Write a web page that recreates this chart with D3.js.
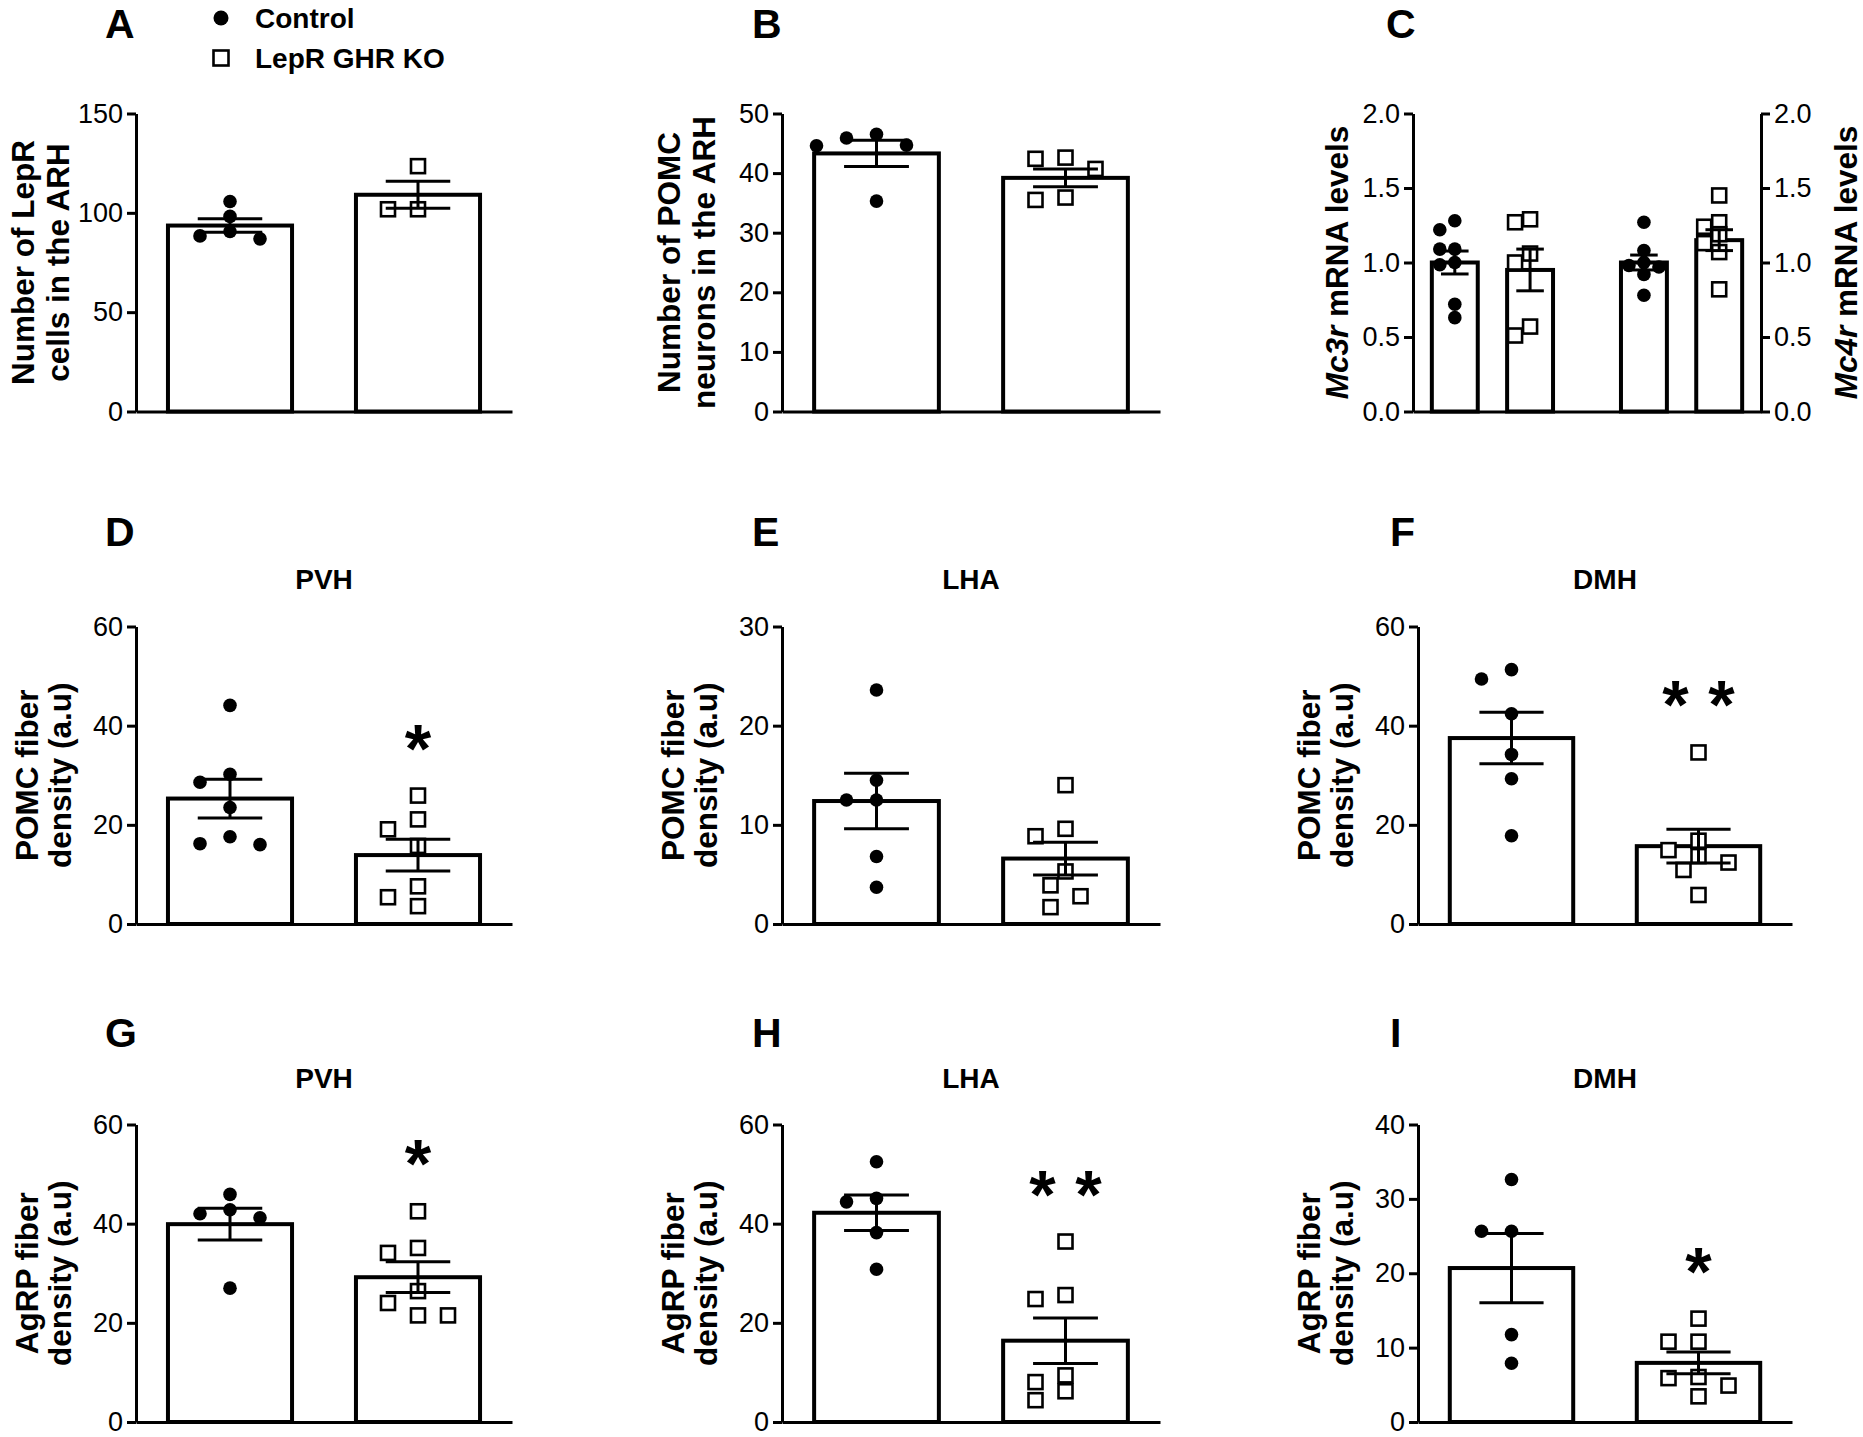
<!DOCTYPE html>
<html><head><meta charset="utf-8">
<script src="https://cdn.jsdelivr.net/npm/d3@7"></script>
<style>
body{margin:0;background:#fff}
svg{display:block}
text{font-family:"Liberation Sans",Arial,Helvetica,sans-serif;fill:#000}
</style>
</head><body>
<svg id="chart" width="1863" height="1437"></svg>
<script>
// ---------------- DATA ----------------
const groups = ["Control", "LepR GHR KO"];
const genes = ["Mc3r", "Mc4r"];

// A: Number of LepR cells in the ARH
const aControl = [98.2, 105.7, 90.6, 88.4, 86.9];
const aKO = [123.5, 101.8, 101.8];
const aMean = [93.6, 109.1];
const aSem = [3.4, 6.8];
const aTicks = [0, 50, 100, 150];

// B: Number of POMC neurons in the ARH
const bControl = [46.5, 45.9, 44.7, 44.6, 35.3];
const bKO = [42.6, 42.4, 40.7, 35.9, 35.5];
const bMean = [43.3, 39.2];
const bSem = [2.2, 1.5];
const bTicks = [0, 10, 20, 30, 40, 50];

// C: Mc3r / Mc4r mRNA levels
const cMc3rControl = [1.28, 1.22, 1.09, 1.09, 1.0, 0.985, 0.72, 0.63];
const cMc3rKO = [1.29, 1.27, 1.06, 1.0, 0.57, 0.51];
const cMc4rControl = [1.27, 1.08, 1.0, 0.98, 0.97, 0.92, 0.78];
const cMc4rKO = [1.45, 1.27, 1.24, 1.19, 1.13, 1.07, 0.82];
const cMean = [1.0, 0.95, 1.0, 1.15];
const cSem = [0.077, 0.14, 0.05, 0.07];
const cTicks = [0, 0.5, 1.0, 1.5, 2.0];

// D: POMC fiber density PVH
const dControl = [44.1, 30.2, 28.6, 23.5, 17.6, 16.0, 16.2];
const dKO = [25.9, 21.1, 19.1, 15.75, 7.6, 5.4, 3.6];
const dMean = [25.3, 13.9];
const dSem = [3.9, 3.2];

// E: POMC fiber density LHA
const eControl = [23.6, 14.5, 12.5, 12.5, 6.8, 3.7];
const eKO = [14.0, 9.6, 8.85, 5.3, 3.9, 2.8, 1.7];
const eMean = [12.4, 6.6];
const eSem = [2.8, 1.65];

// F: POMC fiber density DMH
const fControl = [51.3, 49.4, 42.4, 34.2, 29.3, 17.8];
const fKO = [34.6, 16.8, 14.9, 13.7, 12.4, 10.9, 5.85];
const fMean = [37.5, 15.7];
const fSem = [5.2, 3.4];

// G: AgRP fiber density PVH
const gControl = [45.9, 42.0, 42.8, 41.2, 27.0];
const gKO = [42.5, 35.1, 34.1, 26.4, 24.0, 21.5, 21.5];
const gMean = [39.9, 29.2];
const gSem = [3.2, 3.1];

// H: AgRP fiber density LHA
const hControl = [52.5, 44.4, 45.1, 38.2, 30.8];
const hKO = [36.4, 24.8, 25.6, 8.05, 9.4, 6.2, 4.4];
const hMean = [42.2, 16.4];
const hSem = [3.6, 4.6];

// I: AgRP fiber density DMH
const iControl = [32.6, 25.65, 25.65, 11.75, 7.9];
const iKO = [13.9, 10.8, 10.8, 5.9, 6.05, 4.9, 3.45];
const iMean = [20.7, 7.95];
const iSem = [4.65, 1.45];

const ticks60 = [0, 20, 40, 60];
const ticks30 = [0, 10, 20, 30];
const ticks40 = [0, 10, 20, 30, 40];

const pomcLabel = ["POMC fiber", "density (a.u)"];
const agrpLabel = ["AgRP fiber", "density (a.u)"];

// ---------------- LAYOUT ----------------
const svg = d3.select("#chart");
const cols = [
  {axis: 136, end: 512, letter: 105},
  {axis: 782, end: 1160, letter: 752},
  {axis: 1418, end: 1792, letter: 1390}
];
const rows = [
  {top: 113.5, zero: 411.5, letter: 37.5, title: null, l1: 102, l2: 67},
  {top: 626.5, zero: 924, letter: 546, title: 589, l1: 98, l2: 65},
  {top: 1124.5, zero: 1422, letter: 1047, title: 1088, l1: 98, l2: 65}
];
const TICK = 9, LW = 3, BARW = 4;
const DOT_R = 6.8, SQ = 14;
const fmtInt = d3.format("d"), fmt1 = d3.format(".1f");

function swarm(values, y, cx, sx, sy) {
  const order = values.map((v, i) => i).sort((a, b) => values[b] - values[a]);
  const placed = [];
  const out = new Array(values.length);
  const step = sx / 2;
  for (const i of order) {
    const py = y(values[i]);
    let chosen = 0;
    for (let k = 0; k < 60; k++) {
      const off = k === 0 ? 0 : (k % 2 ? -1 : 1) * Math.ceil(k / 2) * step;
      const ok = placed.every(p => {
        const dx = (p.x - (cx + off)) / sx, dy = (p.y - py) / sy;
        return dx * dx + dy * dy >= 0.999;
      });
      if (ok) { chosen = off; break; }
    }
    const pt = {x: cx + chosen, y: py};
    placed.push(pt);
    out[i] = pt;
  }
  return out;
}

function drawPoints(g, vals, y, cx, kind, sx, sy) {
  const pts = swarm(vals, y, cx, sx, sy);
  if (kind === 0) {
    g.append("g").selectAll("circle").data(pts).join("circle")
      .attr("cx", d => d.x).attr("cy", d => d.y).attr("r", DOT_R).attr("fill", "#000");
  } else {
    g.append("g").selectAll("rect").data(pts).join("rect")
      .attr("x", d => d.x - SQ / 2).attr("y", d => d.y - SQ / 2)
      .attr("width", SQ).attr("height", SQ)
      .attr("fill", "#fff").attr("stroke", "#000").attr("stroke-width", 2.6);
  }
}

function drawBar(g, x0, bw, mean, y, zero) {
  g.append("rect").attr("x", x0).attr("width", bw)
    .attr("y", y(mean)).attr("height", zero - y(mean))
    .attr("fill", "#fff").attr("stroke", "#000").attr("stroke-width", BARW);
}
function drawErr(g, cx, cw, mean, sem, y) {
  const e = g.append("g").attr("stroke", "#000").attr("stroke-width", LW);
  e.append("line").attr("x1", cx).attr("x2", cx).attr("y1", y(mean - sem)).attr("y2", y(mean + sem));
  e.append("line").attr("x1", cx - cw).attr("x2", cx + cw).attr("y1", y(mean + sem)).attr("y2", y(mean + sem));
  e.append("line").attr("x1", cx - cw).attr("x2", cx + cw).attr("y1", y(mean - sem)).attr("y2", y(mean - sem));
}

function styleAxis(sel) {
  sel.select(".domain").attr("stroke", "#000").attr("stroke-width", LW);
  sel.selectAll(".tick line").attr("stroke", "#000").attr("stroke-width", LW);
  sel.selectAll(".tick text").attr("font-size", 27).attr("fill", "#000")
    .style("font-family", '"Liberation Sans", Arial, sans-serif');
}

function yLabel(g, lines, x1, x2, yMid) {
  const xs = lines.length === 2 ? [x1, x2] : [x2];
  lines.forEach((ln, i) => {
    g.append("text").attr("transform", `translate(${xs[i]},${yMid}) rotate(-90)`)
      .attr("text-anchor", "middle").attr("font-size", 31.5).attr("font-weight", "bold").text(ln);
  });
}

function letter(txt, x, y) {
  svg.append("text").attr("x", x).attr("y", y).attr("font-size", 41).attr("font-weight", "bold").text(txt);
}

function sigMark(g, sig, cx, cy) {
  if (!sig) return;
  const xs = sig.length === 2 ? [cx - 23, cx + 23] : [cx];
  xs.forEach(x => g.append("text").attr("x", x).attr("y", cy + 36)
    .attr("text-anchor", "middle").attr("font-size", 68).attr("font-weight", "bold").text("*"));
}

function drawPanel(p) {
  const c = cols[p.col], r = rows[p.row];
  const g = svg.append("g");
  const y = d3.scaleLinear().domain([0, p.yMax]).range([r.zero, r.top]);
  const x = d3.scaleBand().domain(groups).range([c.axis, c.end]).paddingInner(0.34).paddingOuter(0.17);
  const bw = x.bandwidth();
  groups.forEach((grp, i) => drawBar(g, x(grp), bw, p.mean[i], y, r.zero));
  groups.forEach((grp, i) => drawPoints(g, p.values[i], y, x(grp) + bw / 2, i, 30, 14.5));
  groups.forEach((grp, i) => drawErr(g, x(grp) + bw / 2, bw * 0.26, p.mean[i], p.sem[i], y));
  const ax = g.append("g").attr("transform", `translate(${c.axis},0)`)
    .call(d3.axisLeft(y).tickValues(p.ticks).tickFormat(fmtInt).tickSize(TICK).tickSizeOuter(0).tickPadding(4));
  styleAxis(ax);
  const bx = g.append("g").attr("transform", `translate(0,${r.zero})`)
    .call(d3.axisBottom(x).tickSize(0).tickSizeOuter(0).tickFormat(""));
  styleAxis(bx);
  yLabel(g, p.label, c.axis - r.l1, c.axis - r.l2, (r.top + r.zero) / 2);
  letter(p.id, c.letter, r.letter);
  if (p.title) {
    g.append("text").attr("x", (x(groups[0]) + x(groups[1]) + bw) / 2).attr("y", r.title)
      .attr("text-anchor", "middle").attr("font-size", 28).attr("font-weight", "bold").text(p.title);
  }
  if (p.sig) {
    const ko = p.values[1];
    sigMark(g, p.sig, x(groups[1]) + bw / 2, y(d3.max(ko)) - 60);
  }
}

const panels = [
  {id: "A", col: 0, row: 0, yMax: 150, ticks: aTicks, label: ["Number of LepR", "cells in the ARH"], values: [aControl, aKO], mean: aMean, sem: aSem},
  {id: "B", col: 1, row: 0, yMax: 50, ticks: bTicks, label: ["Number of POMC", "neurons in the ARH"], values: [bControl, bKO], mean: bMean, sem: bSem},
  {id: "D", col: 0, row: 1, yMax: 60, ticks: ticks60, label: pomcLabel, values: [dControl, dKO], mean: dMean, sem: dSem, title: "PVH", sig: "*"},
  {id: "E", col: 1, row: 1, yMax: 30, ticks: ticks30, label: pomcLabel, values: [eControl, eKO], mean: eMean, sem: eSem, title: "LHA", sig: ""},
  {id: "F", col: 2, row: 1, yMax: 60, ticks: ticks60, label: pomcLabel, values: [fControl, fKO], mean: fMean, sem: fSem, title: "DMH", sig: "**"},
  {id: "G", col: 0, row: 2, yMax: 60, ticks: ticks60, label: agrpLabel, values: [gControl, gKO], mean: gMean, sem: gSem, title: "PVH", sig: "*"},
  {id: "H", col: 1, row: 2, yMax: 60, ticks: ticks60, label: agrpLabel, values: [hControl, hKO], mean: hMean, sem: hSem, title: "LHA", sig: "**"},
  {id: "I", col: 2, row: 2, yMax: 40, ticks: ticks40, label: agrpLabel, values: [iControl, iKO], mean: iMean, sem: iSem, title: "DMH", sig: "*"}
];
panels.forEach(drawPanel);

// ---------------- Panel C ----------------
(function () {
  const r = rows[0];
  const left = 1413, right = 1761;
  const g = svg.append("g");
  const y = d3.scaleLinear().domain([0, 2]).range([r.zero, r.top]);
  const xo = d3.scaleBand().domain(genes).range([left, right]).paddingInner(0.2).paddingOuter(0.02);
  const xi = d3.scaleBand().domain(groups).range([0, xo.bandwidth()]).paddingInner(0.39).paddingOuter(0.2);
  const bw = xi.bandwidth();
  const vals = [cMc3rControl, cMc3rKO, cMc4rControl, cMc4rKO];
  const items = [];
  genes.forEach((gn, gi) => groups.forEach((grp, k) => items.push({x0: xo(gn) + xi(grp), k, idx: gi * 2 + k})));
  items.forEach(it => drawBar(g, it.x0, bw, cMean[it.idx], y, r.zero));
  items.forEach(it => drawPoints(g, vals[it.idx], y, it.x0 + bw / 2, it.k, 15, 11));
  items.forEach(it => drawErr(g, it.x0 + bw / 2, bw * 0.3, cMean[it.idx], cSem[it.idx], y));
  const axL = g.append("g").attr("transform", `translate(${left},0)`)
    .call(d3.axisLeft(y).tickValues(cTicks).tickFormat(fmt1).tickSize(TICK).tickSizeOuter(0).tickPadding(4));
  styleAxis(axL);
  const axR = g.append("g").attr("transform", `translate(${right},0)`)
    .call(d3.axisRight(y).tickValues(cTicks).tickFormat(fmt1).tickSize(TICK).tickSizeOuter(0).tickPadding(4));
  styleAxis(axR);
  const bx = g.append("g").attr("transform", `translate(0,${r.zero})`)
    .call(d3.axisBottom(d3.scaleLinear().domain([0, 1]).range([left, right])).tickValues([]).tickSizeOuter(0));
  styleAxis(bx);
  const mid = (r.top + r.zero) / 2;
  const t1 = g.append("text").attr("transform", `translate(${left - 65},${mid}) rotate(-90)`)
    .attr("text-anchor", "middle").attr("font-size", 31.5).attr("font-weight", "bold");
  t1.append("tspan").attr("font-style", "italic").text("Mc3r");
  t1.append("tspan").text(" mRNA levels");
  const t2 = g.append("text").attr("transform", `translate(${right + 96},${mid}) rotate(-90)`)
    .attr("text-anchor", "middle").attr("font-size", 31.5).attr("font-weight", "bold");
  t2.append("tspan").attr("font-style", "italic").text("Mc4r");
  t2.append("tspan").text(" mRNA levels");
  letter("C", 1386, r.letter);
})();

// ---------------- Legend ----------------
(function () {
  const lg = svg.append("g");
  const items = [{label: groups[0], kind: 0, y: 18}, {label: groups[1], kind: 1, y: 58}];
  items.forEach(it => {
    if (it.kind === 0) lg.append("circle").attr("cx", 221).attr("cy", it.y).attr("r", 7.5).attr("fill", "#000");
    else lg.append("rect").attr("x", 221 - 7.5).attr("y", it.y - 7.5).attr("width", 15).attr("height", 15)
      .attr("fill", "#fff").attr("stroke", "#000").attr("stroke-width", 2.6);
    lg.append("text").attr("x", 255).attr("y", it.y + 10).attr("font-size", 28).attr("font-weight", "bold").text(it.label);
  });
})();
</script>
</body></html>
